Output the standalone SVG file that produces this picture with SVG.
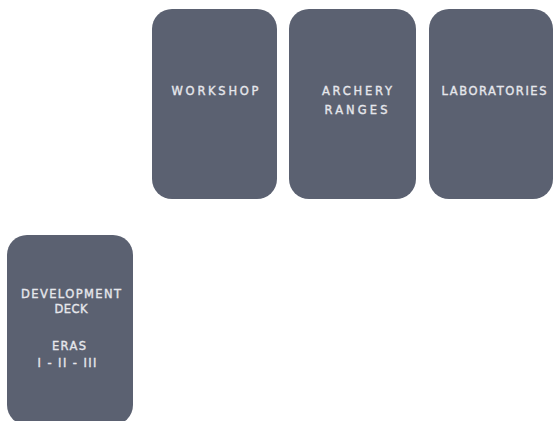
<svg xmlns="http://www.w3.org/2000/svg" width="553" height="421" viewBox="0 0 553 421">
<style>
.card{fill:#5b6171;}
.t{font-family:"DejaVu Sans",sans-serif;font-size:11.5px;fill:#e6e7ec;stroke:#e6e7ec;stroke-width:0.35;text-anchor:middle;}
</style>
<rect width="553" height="421" fill="#ffffff"/>
<g id="workshop">
<rect class="card" x="152" y="9" width="125" height="190" rx="20"/>
<text class="t" x="215" y="95" textLength="87" lengthAdjust="spacing">WORKSHOP</text>
</g>
<g id="archery">
<rect class="card" x="289" y="9" width="127" height="190" rx="20"/>
<text class="t" x="357" y="95" textLength="70" lengthAdjust="spacing">ARCHERY</text>
<text class="t" x="356" y="114" textLength="63" lengthAdjust="spacing">RANGES</text>
</g>
<g id="laboratories">
<rect class="card" x="429" y="9" width="124" height="190" rx="20"/>
<text class="t" x="494" y="95" textLength="105" lengthAdjust="spacing">LABORATORIES</text>
</g>
<g id="development">
<rect class="card" x="7" y="235" width="126" height="190" rx="20"/>
<text class="t" x="71" y="298" textLength="100" lengthAdjust="spacing">DEVELOPMENT</text>
<text class="t" x="71" y="313" textLength="33" lengthAdjust="spacing">DECK</text>
<text class="t" x="69" y="350" textLength="34" lengthAdjust="spacing">ERAS</text>
<text class="t" x="67" y="367" textLength="59" lengthAdjust="spacing">I - II - III</text>
</g>
<g id="connectors"/>
</svg>
